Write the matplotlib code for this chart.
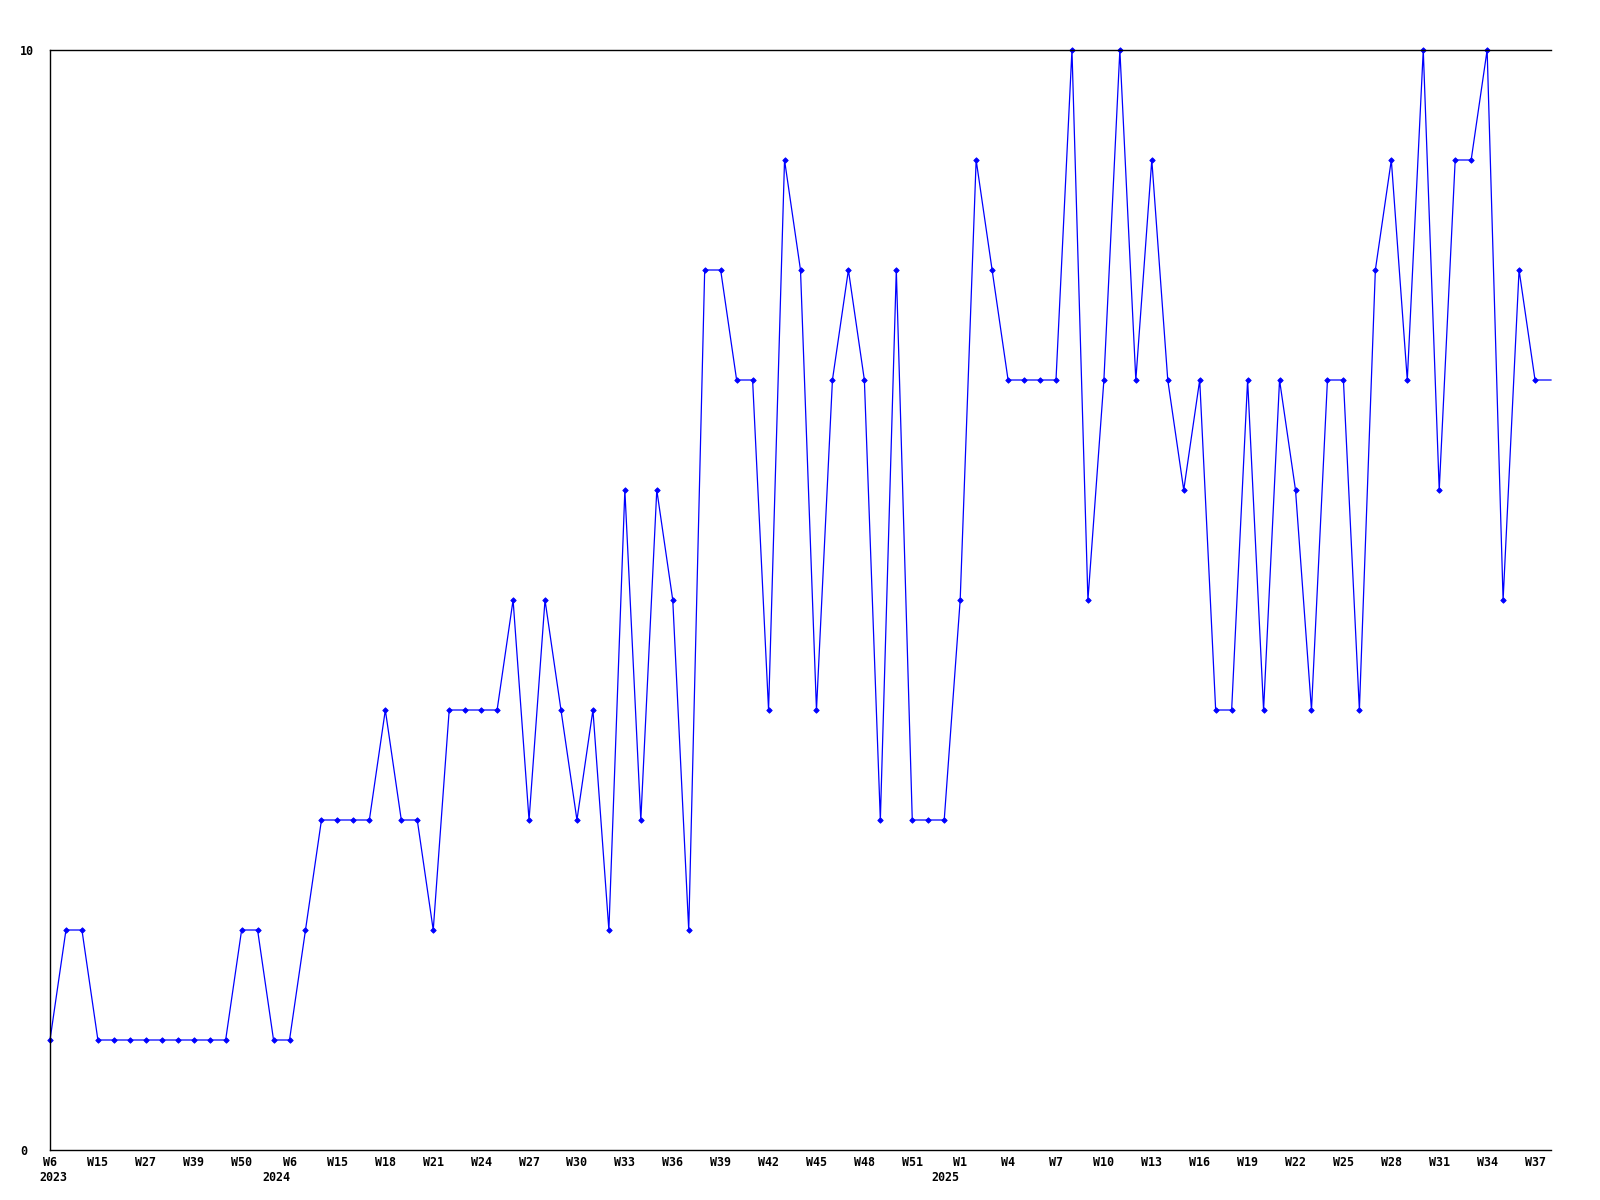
import matplotlib
matplotlib.use("Agg")
import matplotlib.pyplot as plt

# weekly values (one point per week step)
values = [1, 2, 2, 1, 1, 1, 1, 1, 1, 1, 1, 1, 2, 2, 1, 1, 2, 3, 3, 3,
          3, 4, 3, 3, 2, 4, 4, 4, 4, 5, 3, 5, 4, 3, 4, 2, 6, 3, 6, 5,
          2, 8, 8, 7, 7, 4, 9, 8, 4, 7, 8, 7, 3, 8, 3, 3, 3, 5, 9, 8,
          7, 7, 7, 7, 10, 5, 7, 10, 7, 9, 7, 6, 7, 4, 4, 7, 4, 7, 6, 4,
          7, 7, 4, 8, 9, 7, 10, 6, 9, 9, 10, 5, 8, 7, 7]
week_labels = ["W6", "W15", "W27", "W39", "W50", "W6", "W15", "W18", "W21", "W24",
               "W27", "W30", "W33", "W36", "W39", "W42", "W45", "W48", "W51", "W1",
               "W4", "W7", "W10", "W13", "W16", "W19", "W22", "W25", "W28", "W31",
               "W34", "W37"]
label_step = 3
year_labels = ["2023", "2024", "2025"]
year_at = [0.2, 14.2, 56.1]

FONT = dict(family="DejaVu Sans Mono", fontweight="bold", fontsize=8.4)
BLUE = "#0000ff"

fig = plt.figure(figsize=(16, 12), dpi=100)
ax = fig.add_axes([50 / 1600, 50 / 1200, 1501 / 1600, 1100 / 1200])

x = list(range(len(values)))
ax.plot(x, values, color=BLUE, lw=0.9, marker="D", ms=2.8, mew=0.6,
        markevery=list(range(len(values) - 1)), clip_on=False)

ax.set_xlim(0, len(values) - 1)
ax.set_ylim(0, 10)

ax.spines["right"].set_visible(False)
for s in ("left", "top", "bottom"):
    ax.spines[s].set_linewidth(1.0)
    ax.spines[s].set_color("black")

ax.set_xticks([i * label_step for i in range(len(week_labels))])
ax.set_xticklabels(week_labels, **FONT)
ax.set_yticks([0, 10])
ax.set_yticklabels(["0", "10"], ha="left", **FONT)
ax.tick_params(axis="x", length=0, pad=4)
ax.tick_params(axis="y", length=0, pad=21.6)

for lab, xp in zip(year_labels, year_at):
    ax.text(xp, -0.0195, lab, transform=ax.get_xaxis_transform(), ha="center", va="top", **FONT)

fig.savefig("out.png", dpi=100, facecolor="white")
